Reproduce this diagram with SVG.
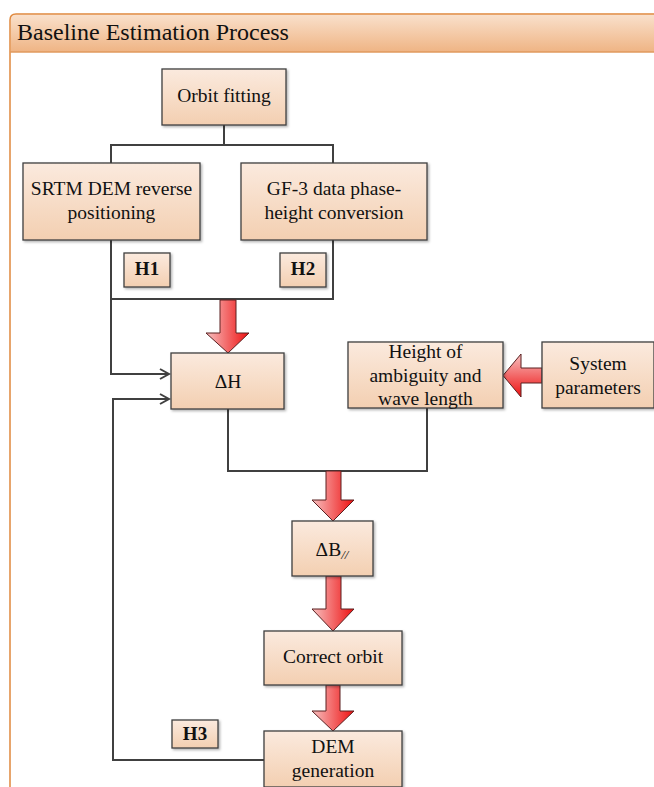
<svg xmlns="http://www.w3.org/2000/svg" width="654" height="787" viewBox="0 0 654 787" font-family="'Liberation Serif', 'Times New Roman', serif">
<style>
.box{stroke:#3f3f3f;stroke-width:1.3;fill:url(#boxg);filter:url(#sh)}
.t{font-family:'Liberation Serif','Times New Roman',serif;font-size:19.5px;fill:#111;text-anchor:middle}
.b{font-weight:bold;font-size:19px}
.ln{fill:none;stroke:#404040;stroke-width:2}
.fa{fill:url(#redg);stroke:#5a2020;stroke-width:1}
</style>
<defs>
<linearGradient id="boxg" x1="0" y1="0" x2="0" y2="1"><stop offset="0" stop-color="#fbeade"/><stop offset="1" stop-color="#f3cfb1"/></linearGradient>
<linearGradient id="hdrg" x1="0" y1="0" x2="0" y2="1"><stop offset="0" stop-color="#f9e0cb"/><stop offset="1" stop-color="#efb484"/></linearGradient>
<linearGradient id="redg" x1="0" y1="0" x2="1" y2="0"><stop offset="0" stop-color="#f7c0c0"/><stop offset="1" stop-color="#ee1010"/></linearGradient>
<linearGradient id="redgv" x1="0" y1="0" x2="0" y2="1"><stop offset="0" stop-color="#f7c0c0"/><stop offset="1" stop-color="#ee1010"/></linearGradient>
<filter id="sh" x="-10%" y="-10%" width="130%" height="130%"><feDropShadow dx="1.5" dy="1.5" stdDeviation="1" flood-color="#000" flood-opacity="0.3"/></filter>
<marker id="ar" markerWidth="12" markerHeight="12" refX="10" refY="6" orient="auto" markerUnits="userSpaceOnUse"><path d="M1,1 L10,6 L1,11" fill="none" stroke="#404040" stroke-width="2"/></marker>
</defs>
<g id="panel">
<path d="M10.8,52 L10.8,20 Q10.8,14.8 16,14.8 L660,14.8 L660,52 Z" fill="url(#hdrg)"/>
<path d="M10,787 L10,20 Q10,14 16,14 L660,14" fill="none" stroke="#e0883c" stroke-width="1.5"/>
<line x1="10" y1="52" x2="660" y2="52" stroke="#e19a5e" stroke-width="1.5"/>
<text x="17" y="40" font-family="'Liberation Serif', 'Times New Roman', serif" font-size="24" fill="#111">Baseline Estimation Process</text>
</g>
<g id="connectors">
<polyline class="ln" points="224,125 224,145"/>
<polyline class="ln" points="111,163 111,145 333,145 333,163"/>
<polyline class="ln" points="111,240 111,374 169,374" marker-end="url(#ar)"/>
<polyline class="ln" points="333,240 333,299 111,299"/>
<polyline class="ln" points="264,760 113,760 113,399 169,399" marker-end="url(#ar)"/>
<polyline class="ln" points="228,409 228,471 427,471 427,408"/>
<path class="fa" d="M220,300 L236,300 L236,333 L249,333 L228,353 L206,333 L220,333 Z"/>
<path class="fa" d="M542,368 L521,368 L521,354 L503,375.5 L521,397 L521,383 L542,383 Z" style="fill:url(#redgv)"/>
<path class="fa" d="M326,471 L341,471 L341,500 L354,500 L333,521 L312,500 L326,500 Z"/>
<path class="fa" d="M326,576 L341,576 L341,609 L354,609 L333,631 L312,609 L326,609 Z"/>
<path class="fa" d="M326,685 L340,685 L340,711 L354,711 L333,731 L312,711 L326,711 Z"/>
</g>
<g id="orbit-fitting"><rect class="box" x="162" y="69" width="124" height="56"/><text class="t" x="224" y="102">Orbit fitting</text></g>
<g id="srtm"><rect class="box" x="23" y="163" width="177" height="77"/><text class="t" x="111.5" y="195">SRTM DEM reverse</text><text class="t" x="111.5" y="219">positioning</text></g>
<g id="gf3"><rect class="box" x="241" y="163" width="186" height="77"/><text class="t" x="334" y="195">GF-3 data phase-</text><text class="t" x="334" y="219">height conversion</text></g>
<g id="h1"><rect class="box" x="124" y="253" width="46" height="34"/><text class="t b" x="147" y="275">H1</text></g>
<g id="h2"><rect class="box" x="280" y="253" width="46" height="34"/><text class="t b" x="303" y="275">H2</text></g>
<g id="dh"><rect class="box" x="171" y="353" width="113" height="56"/><text class="t" x="228" y="388">ΔH</text></g>
<g id="hoa"><rect class="box" x="348" y="342" width="155" height="66"/><text class="t" x="425.5" y="358">Height of</text><text class="t" x="425.5" y="382">ambiguity and</text><text class="t" x="425.5" y="405">wave length</text></g>
<g id="sys"><rect class="box" x="542" y="342" width="112" height="66"/><text class="t" x="598" y="370">System</text><text class="t" x="598" y="394">parameters</text></g>
<g id="db"><rect class="box" x="292" y="521" width="81" height="55"/><text class="t" x="332" y="556">ΔB<tspan font-size="13" font-style="italic" dy="3">//</tspan></text></g>
<g id="correct"><rect class="box" x="264" y="631" width="138" height="54"/><text class="t" x="333" y="663">Correct orbit</text></g>
<g id="h3"><rect class="box" x="172" y="720" width="46" height="28"/><text class="t b" x="195" y="740">H3</text></g>
<g id="demgen"><rect class="box" x="264" y="731" width="138" height="56"/><text class="t" x="333" y="753">DEM</text><text class="t" x="333" y="777">generation</text></g>
</svg>
